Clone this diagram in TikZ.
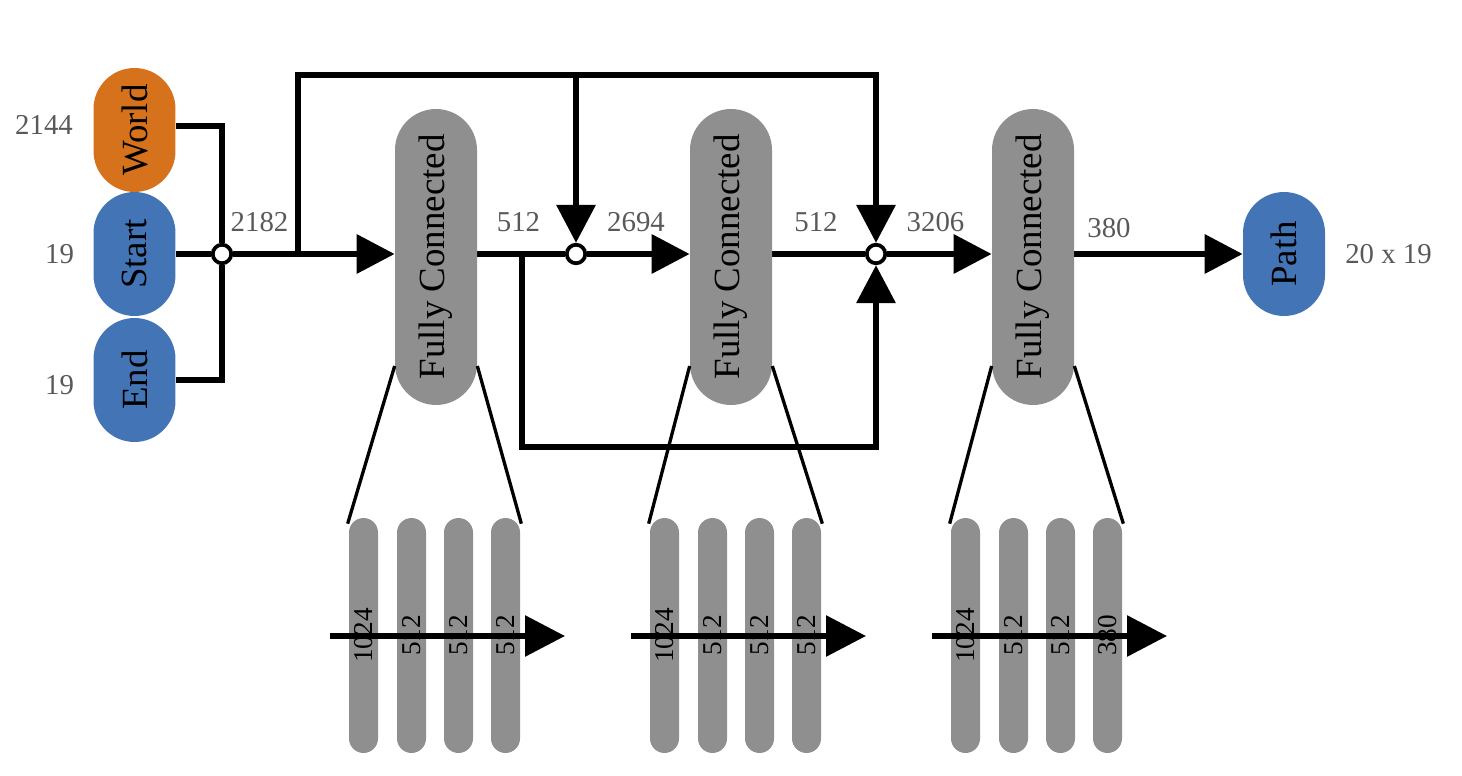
\documentclass[tikz,border=0pt]{standalone}
\usepackage{fontspec}
\setmainfont{Liberation Serif}
\usepackage{graphicx}
\usetikzlibrary{arrows.meta,calc}
\definecolor{orng}{HTML}{D6711C}
\definecolor{blu}{HTML}{4374B5}
\definecolor{gry}{HTML}{8F8F8F}
\definecolor{lbl}{HTML}{595959}
\pgfdeclarelayer{bg}
\pgfsetlayers{bg,main}
\begin{document}
\begin{tikzpicture}[x=0.02cm,y=-0.02cm,
  io/.style={minimum width=1.64cm,minimum height=2.48cm,inner sep=0pt,rounded corners=0.82cm,font=\fontsize{21}{21}\selectfont},
  fcbox/.style={fill=gry,minimum width=1.64cm,minimum height=5.92cm,inner sep=0pt,rounded corners=0.82cm,font=\fontsize{21}{21}\selectfont},
  bar/.style={fill=gry,minimum width=0.58cm,minimum height=4.7cm,inner sep=0pt,rounded corners=0.29cm},
  barlbl/.style={font=\fontsize{15.5}{15}\selectfont,inner sep=0pt},
  dim/.style={text=lbl,font=\fontsize{16.4}{16}\selectfont,inner sep=0pt},
  junc/.style={circle,draw,fill=white,line width=0.075cm,minimum size=0.37cm,inner sep=0pt},
  wire/.style={line width=0.13cm},
  arr/.style={wire,-{Triangle[length=0.76cm,width=0.76cm]}},
  barr/.style={line width=0.12cm,-{Triangle[length=0.8cm,width=0.8cm]}},
  fan/.style={line width=0.066cm},
]
\useasboundingbox (0,0) rectangle (1462,776);

% inputs
\node[io,fill=orng] (world) at (134.5,130) {\rotatebox{90}{World}};
\node[io,fill=blu] (start) at (134.5,254) {\rotatebox{90}{Start}};
\node[io,fill=blu] (end) at (134.5,380) {\rotatebox{90}{End}};
\node[io,fill=blu] (path) at (1284,254) {\rotatebox{90}{Path}};

% fully connected blocks
\node[fcbox] (fc1) at (436,257) {\rotatebox{90}{Fully Connected}};
\node[fcbox] (fc2) at (731,257) {\rotatebox{90}{Fully Connected}};
\node[fcbox] (fc3) at (1033,257) {\rotatebox{90}{Fully Connected}};

% junctions
\node[junc] (j1) at (222,254) {};
\node[junc] (j2) at (576,254) {};
\node[junc] (j3) at (876,254) {};

% dimension labels
\node[dim] (l2144) at (44,125) {2144};
\node[dim] (l19a) at (59.5,254) {19};
\node[dim] (l19b) at (59.5,385) {19};
\node[dim] (l2182) at (259.5,222) {2182};
\node[dim] (l512a) at (518.5,222) {512};
\node[dim] (l2694) at (636,222) {2694};
\node[dim] (l512b) at (816,222) {512};
\node[dim] (l3206) at (935.5,222) {3206};
\node[dim] (l380) at (1109,228) {380};
\node[dim] (l2019) at (1388.5,254) {20 x 19};

\coordinate (s1) at (298,254);
\coordinate (tl) at (298,75);
\coordinate (tr) at (876,75);
\coordinate (b1) at (522,254);
\coordinate (bl) at (522,447);
\coordinate (br) at (876,447);

\begin{pgfonlayer}{bg}
  \draw[wire] ($(world.east)+(0,-4)$) -| (j1);
  \draw[wire] (end.east) -| (j1);
  \draw[wire] (start.east |- j1) -- (j1);
  \draw[arr] (j1) -- (fc1.west |- j1);
  \draw[arr] (s1) -- (tl) -- (tr) -- (j3.north);
  \draw[arr] (j2 |- tl) -- (j2.north);
  \draw[wire] (fc1.east |- j2) -- (j2);
  \draw[arr] (j2) -- (fc2.west |- j2);
  \draw[arr] (b1) -- (bl) -- (br) -- (j3.south);
  \draw[wire] (fc2.east |- j3) -- (j3);
  \draw[arr] (j3) -- (fc3.west |- j3);
  \draw[arr] (fc3.east |- path) -- (path.west);
\end{pgfonlayer}

% layer detail groups
\foreach \g/\dx/\last in {1/0/512,2/301/512,3/602/380} {
  \node[bar] (g\g b1) at (363.5+\dx,635.5) {};
  \node[bar] (g\g b2) at (411.5+\dx,635.5) {};
  \node[bar] (g\g b3) at (458.5+\dx,635.5) {};
  \node[bar] (g\g b4) at (505.5+\dx,635.5) {};
  \coordinate (g\g s) at (330+\dx,636);
  \coordinate (g\g e) at (565+\dx,636);
  \draw[barr] (g\g s) -- (g\g e);
  \node[barlbl] at (g\g b1) {\rotatebox{90}{1024}};
  \node[barlbl] at (g\g b2) {\rotatebox{90}{512}};
  \node[barlbl] at (g\g b3) {\rotatebox{90}{512}};
  \node[barlbl] at (g\g b4) {\rotatebox{90}{\last}};
  \draw[fan] (fc\g.west |- 0,366) -- ($(g\g b1.north west)+(-1,6)$);
  \draw[fan] (fc\g.east |- 0,366) -- ($(g\g b4.north east)+(1,6)$);
}
\end{tikzpicture}
\end{document}
